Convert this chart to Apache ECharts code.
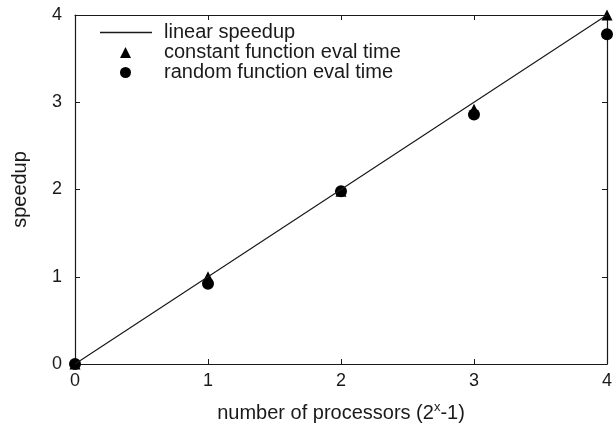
<!DOCTYPE html>
<html>
<head>
<meta charset="utf-8">
<script src="https://cdn.jsdelivr.net/npm/echarts@6/dist/echarts.min.js"></script>
<style>
  html, body { margin: 0; padding: 0; background: #fff; }
  #chart { width: 615px; height: 429px; }
</style>
</head>
<body>
<div id="chart"></div>
<script>
// processors axis (2^x - 1)
const procs = [0, 1, 2, 3, 4];
const linearSpeedup = [0, 1, 2, 3, 4];
const constantEval = [0, 1.0, 1.98, 2.92, 4.0];
const randomEval = [0, 0.92, 1.98, 2.86, 3.78];
const tickVals = [0, 1, 2, 3, 4];
const seriesNames = ['linear speedup', 'constant function eval time', 'random function eval time'];

const font = 'Liberation Sans, Arial, sans-serif';
const ink = '#1a1a1a';

let chart = echarts.init(document.getElementById('chart'));

const pairs = ys => procs.map((x, i) => [x, ys[i]]);

// axis look shared by the main and mirrored axes (box around the plot)
const baseAxis = (show) => ({
  type: 'value',
  min: tickVals[0],
  max: tickVals[tickVals.length - 1],
  interval: 1,
  axisLine: { show: true, onZero: false, lineStyle: { color: ink, width: 1.2 } },
  axisTick: { show: true, inside: true, length: 5, lineStyle: { color: ink } },
  axisLabel: { show: show, color: ink, fontSize: 18, fontFamily: font },
  splitLine: { show: false }
});

// one legend per row so each icon can have its own size
const legendRow = (name, top, left, w, h, pad, icon) => ({
  orient: 'vertical',
  left: left,
  top: top,
  padding: 0,
  itemWidth: w,
  itemHeight: h,
  icon: icon,
  selectedMode: false,
  textStyle: { color: ink, fontSize: 20, fontFamily: font, padding: [0, 0, 0, pad] },
  data: [name]
});

let option = {
  animation: false,
  grid: { left: 75, right: 7, top: 15, bottom: 65, containLabel: false },
  legend: [
    legendRow(seriesNames[0], 22.5, 100, 52, 1.5, 7, 'rect'),
    legendRow(seriesNames[1], 42.5, 120, 11, 11, 28),
    legendRow(seriesNames[2], 62.5, 120, 11, 11, 28)
  ],
  xAxis: [
    Object.assign(baseAxis(true), {
      position: 'bottom',
      name: '{n|number of processors (2}{sup|x}{n|-1)}',
      nameLocation: 'middle',
      nameGap: 37,
      nameTextStyle: {
        rich: {
          n: { fontSize: 20, fontFamily: font, color: ink, lineHeight: 24, verticalAlign: 'middle' },
          sup: { fontSize: 13, fontFamily: font, color: ink, lineHeight: 24, verticalAlign: 'top' }
        }
      },
      axisLabel: { color: ink, fontSize: 18, fontFamily: font, margin: 8 }
    }),
    Object.assign(baseAxis(false), { position: 'top' })
  ],
  yAxis: [
    Object.assign(baseAxis(true), {
      position: 'left',
      name: 'speedup',
      nameLocation: 'middle',
      nameGap: 45,
      nameTextStyle: { color: ink, fontSize: 20, fontFamily: font },
      axisLabel: { color: ink, fontSize: 18, fontFamily: font, margin: 13 }
    }),
    Object.assign(baseAxis(false), { position: 'right' })
  ],
  series: [
    {
      name: seriesNames[0],
      type: 'line',
      data: pairs(linearSpeedup),
      showSymbol: false,
      symbol: 'none',
      lineStyle: { color: ink, width: 1.2 },
      itemStyle: { color: ink }
    },
    {
      name: seriesNames[1],
      type: 'scatter',
      data: pairs(constantEval),
      symbol: 'triangle',
      symbolSize: 11,
      itemStyle: { color: '#000', opacity: 1 }
    },
    {
      name: seriesNames[2],
      type: 'scatter',
      data: pairs(randomEval),
      symbol: 'circle',
      symbolSize: 12,
      itemStyle: { color: '#000', opacity: 1 }
    }
  ]
};

chart.setOption(option);
</script>
</body>
</html>
